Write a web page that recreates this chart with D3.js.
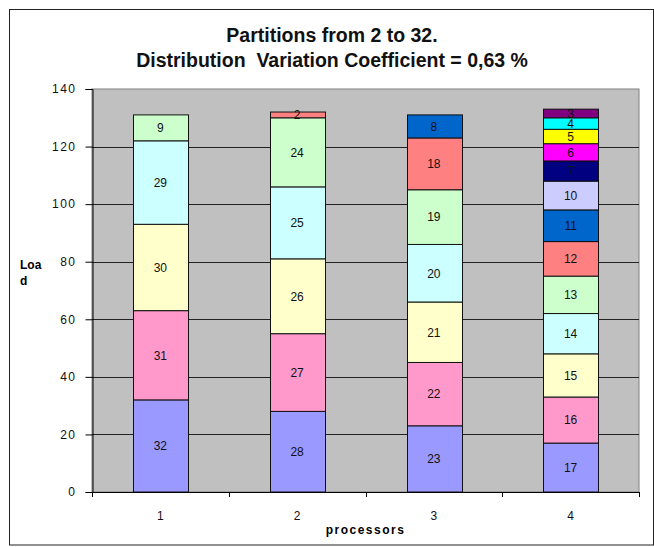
<!DOCTYPE html>
<html>
<head>
<meta charset="utf-8">
<script src="https://cdn.jsdelivr.net/npm/d3@7"></script>
<style>
  html, body { margin: 0; padding: 0; background: #fff; }
  svg { display: block; font-family: "Liberation Sans", Arial, sans-serif; }
</style>
</head>
<body>
<svg id="chart" width="654" height="547"></svg>
<script>
// Processors on the x axis
const processors = ["1", "2", "3", "4"];

// Partition sizes assigned to each processor, bottom of the stack first
const loadsP1 = [32, 31, 30, 29, 9];
const loadsP2 = [28, 27, 26, 25, 24, 2];
const loadsP3 = [23, 22, 21, 20, 19, 18, 8];
const loadsP4 = [17, 16, 15, 14, 13, 12, 11, 10, 7, 6, 5, 4, 3];

// Fill per stack level (Excel chart palette)
const levelColors = ["#9999FF", "#FF99CC", "#FFFFCC", "#CCFFFF", "#CCFFCC", "#FF8080",
                     "#0066CC", "#CCCCFF", "#000080", "#FF00FF", "#FFFF00", "#00FFFF", "#800080"];

const yTicks = [0, 20, 40, 60, 80, 100, 120, 140];

const titleLines = ["Partitions from 2 to 32.", "Distribution  Variation Coefficient = 0,63 %"];

const perProcessor = [loadsP1, loadsP2, loadsP3, loadsP4];
const nLevels = d3.max(perProcessor, a => a.length);

// Table: one row per processor, one column per stack level
const table = processors.map((p, i) => {
  const row = { processor: p };
  for (let k = 0; k < nLevels; k++) row["L" + k] = perProcessor[i][k] || 0;
  return row;
});
const keys = d3.range(nLevels).map(k => "L" + k);
const series = d3.stack().keys(keys)(table);

const svg = d3.select("#chart");

// Outer frame
svg.append("rect")
  .attr("x", 9.5).attr("y", 9.5).attr("width", 644).attr("height", 535.5)
  .attr("fill", "#fff").attr("stroke", "#222").attr("stroke-width", 1);

const plot = { left: 92, right: 639, top: 89, bottom: 492 };

const x = d3.scaleBand().domain(processors)
  .range([plot.left, plot.right]).paddingInner(0.6).paddingOuter(0.3);
const y = d3.scaleLinear().domain([0, 140]).range([plot.bottom, plot.top]);

// Plot background
svg.append("rect")
  .attr("x", plot.left).attr("y", plot.top)
  .attr("width", plot.right - plot.left).attr("height", plot.bottom - plot.top)
  .attr("fill", "#C0C0C0").attr("stroke", "#808080").attr("stroke-width", 1);

// Horizontal gridlines
svg.append("g").selectAll("line")
  .data(yTicks.filter(v => v > 0 && v < 140))
  .join("line")
  .attr("x1", plot.left).attr("x2", plot.right)
  .attr("y1", d => Math.round(y(d)) + 0.5).attr("y2", d => Math.round(y(d)) + 0.5)
  .attr("stroke", "#222").attr("stroke-width", 1);

// Stacked segments
const layers = svg.append("g").selectAll("g")
  .data(series)
  .join("g")
  .attr("fill", (d, i) => levelColors[i]);

layers.selectAll("rect")
  .data(d => d.filter(s => s[1] - s[0] > 0))
  .join("rect")
  .attr("x", d => Math.round(x(d.data.processor)) + 0.5)
  .attr("width", Math.round(x.bandwidth()))
  .attr("y", d => y(d[1]))
  .attr("height", d => y(d[0]) - y(d[1]))
  .attr("stroke", "#111").attr("stroke-width", 1);

// Segment labels: the partition size
layers.selectAll("text")
  .data(d => d.filter(s => s[1] - s[0] > 0))
  .join("text")
  .attr("x", d => x(d.data.processor) + x.bandwidth() / 2)
  .attr("y", d => (y(d[0]) + y(d[1])) / 2)
  .attr("dy", "0.36em")
  .attr("text-anchor", "middle")
  .attr("font-size", 12)
  .attr("fill", "#111")
  .text(d => d[1] - d[0]);

// Y axis
const yAxis = svg.append("g")
  .attr("transform", `translate(${plot.left + 0.5},0)`)
  .call(d3.axisLeft(y).tickValues(yTicks).tickSize(7).tickPadding(9).tickFormat(d3.format("d")));
yAxis.select(".domain").attr("stroke", "#000");
yAxis.selectAll(".tick line").attr("stroke", "#000");
yAxis.selectAll(".tick text")
  .attr("font-size", 12).attr("font-family", "Liberation Sans, Arial, sans-serif")
  .attr("fill", "#111").attr("letter-spacing", "1.5px");

// X axis: ticks at the category boundaries, labels at the centres
const step = x.step();
const boundaries = d3.range(processors.length + 1).map(i => plot.left + i * (plot.right - plot.left) / processors.length);
svg.append("line")
  .attr("x1", plot.left - 6).attr("x2", plot.right + 0.5)
  .attr("y1", plot.bottom + 0.5).attr("y2", plot.bottom + 0.5)
  .attr("stroke", "#000");
svg.append("g").selectAll("line")
  .data(boundaries)
  .join("line")
  .attr("x1", d => Math.round(d) + 0.5).attr("x2", d => Math.round(d) + 0.5)
  .attr("y1", plot.bottom).attr("y2", plot.bottom + 5)
  .attr("stroke", "#000");
svg.append("g").selectAll("text")
  .data(processors)
  .join("text")
  .attr("x", d => x(d) + x.bandwidth() / 2)
  .attr("y", 520)
  .attr("text-anchor", "middle")
  .attr("font-size", 12)
  .attr("fill", "#111")
  .text(d => d);

// Axis titles
svg.append("text")
  .attr("x", (plot.left + plot.right) / 2).attr("y", 534)
  .attr("text-anchor", "middle")
  .attr("font-size", 12).attr("font-weight", "bold")
  .attr("letter-spacing", "1.5px")
  .text("processors");

const yTitle = svg.append("text")
  .attr("x", 20).attr("y", 269)
  .attr("font-size", 12).attr("font-weight", "bold");
yTitle.append("tspan").attr("x", 20).text("Loa");
yTitle.append("tspan").attr("x", 20).attr("dy", 16).text("d");

// Chart title
svg.append("g").selectAll("text")
  .data(titleLines)
  .join("text")
  .attr("x", 332)
  .attr("y", (d, i) => 42 + i * 25)
  .attr("text-anchor", "middle")
  .attr("font-size", 19.5).attr("font-weight", "bold")
  .attr("fill", "#111")
  .style("white-space", "pre")
  .text(d => d);
</script>
</body>
</html>
